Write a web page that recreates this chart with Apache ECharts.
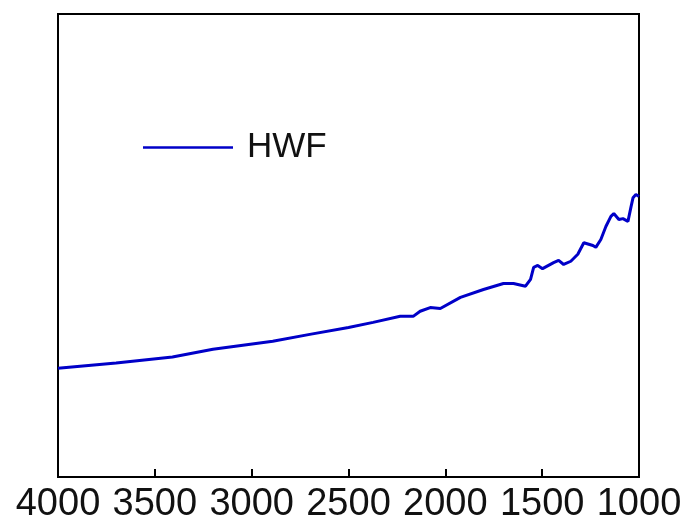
<!DOCTYPE html>
<html>
<head>
<meta charset="utf-8">
<script src="https://cdn.jsdelivr.net/npm/echarts@6/dist/echarts.min.js"></script>
<style>
html,body{margin:0;padding:0;background:#fff;}
#chart{width:686px;height:524px;}
</style>
</head>
<body>
<div id="chart"></div>
<script>
var seriesName = "HWF";
var wavenumbers = [4000, 3700, 3409, 3200, 2891, 2700, 2500, 2373, 2233, 2166, 2130, 2078, 2026, 1922, 1803, 1700, 1648, 1586, 1560, 1544, 1523, 1498, 1441, 1415, 1389, 1352, 1316, 1285, 1238, 1223, 1197, 1171, 1145, 1130, 1104, 1083, 1057, 1041, 1031, 1016, 1000];
var values = [23.5, 24.6, 25.9, 27.6, 29.3, 30.8, 32.3, 33.4, 34.7, 34.7, 35.8, 36.6, 36.4, 38.8, 40.5, 41.8, 41.8, 41.2, 42.7, 45.3, 45.7, 45.0, 46.3, 46.8, 45.9, 46.6, 48.1, 50.6, 50.0, 49.6, 51.3, 54.1, 56.3, 56.9, 55.6, 55.8, 55.2, 58.4, 60.3, 61.0, 60.6];
var xTicks = [4000, 3500, 3000, 2500, 2000, 1500, 1000];

var data = wavenumbers.map(function (w, i) { return [w, values[i]]; });
var chart = echarts.init(document.getElementById('chart'), null, {renderer: 'canvas'});
chart.setOption({
  animation: false,
  backgroundColor: '#fff',
  grid: {left: 58, right: 47, top: 14, bottom: 45, show: true, borderColor: '#000', borderWidth: 2, backgroundColor: 'transparent'},
  legend: {
    left: 138, top: 125,
    itemWidth: 90, itemHeight: 2.5, icon: 'rect',
    textStyle: {fontFamily: 'Liberation Sans, Arial, sans-serif', fontSize: 35, color: '#111', padding: [0, 0, 0, 9]},
    data: [{name: seriesName, itemStyle: {color: '#0000c8'}}]
  },
  xAxis: {
    type: 'value', inverse: true, min: 1000, max: 4000, interval: 500,
    axisLine: {show: false},
    axisTick: {show: true, inside: true, length: 8, lineStyle: {color: '#000', width: 2},
      customValues: xTicks.slice(1, -1)},
    axisLabel: {fontFamily: 'Liberation Sans, Arial, sans-serif', fontSize: 38, color: '#111', margin: 9,
      customValues: xTicks, formatter: function (v) { return String(v); }},
    splitLine: {show: false}
  },
  yAxis: {
    type: 'value', min: 0, max: 100,
    axisLine: {show: false}, axisTick: {show: false}, axisLabel: {show: false}, splitLine: {show: false}
  },
  series: [{
    name: seriesName, type: 'line', data: data, symbol: 'none', smooth: false,
    lineStyle: {color: '#0000c8', width: 3}, itemStyle: {color: '#0000c8'}
  }]
});
</script>
</body>
</html>
